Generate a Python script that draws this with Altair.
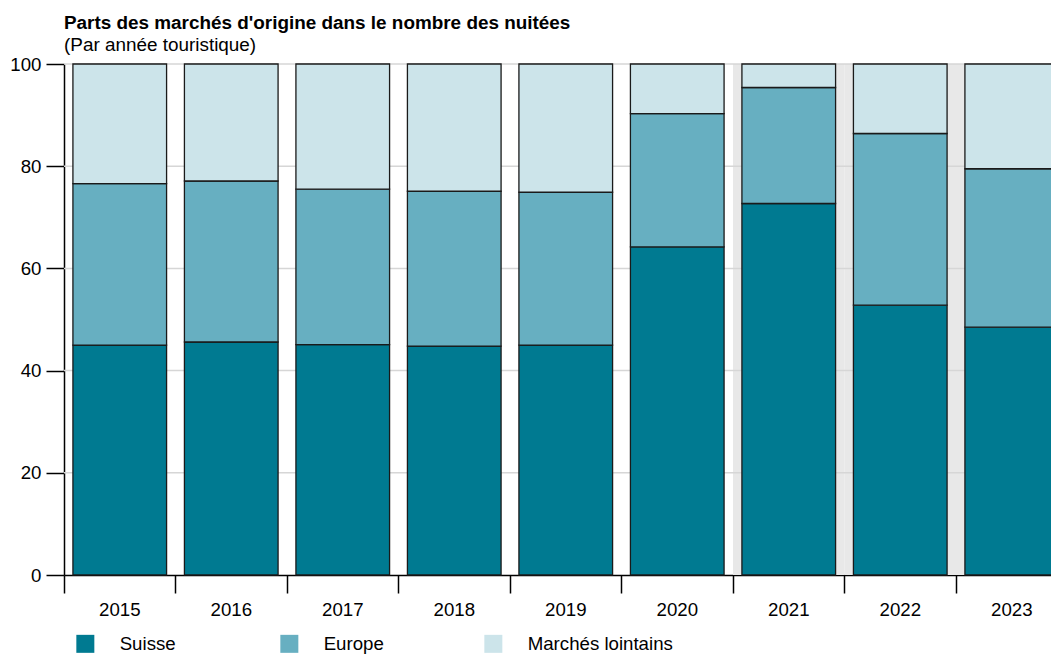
import altair as alt
import pandas as pd

years = ["2015", "2016", "2017", "2018", "2019", "2020", "2021", "2022", "2023"]
series = ["Suisse", "Europe", "Marchés lointains"]
suisse = [45.0, 45.6, 45.1, 44.8, 45.0, 64.2, 72.7, 52.8, 48.5]
europe = [31.6, 31.5, 30.4, 30.3, 29.9, 26.1, 22.7, 33.6, 31.0]
lointains = [23.4, 22.9, 24.5, 24.9, 25.1, 9.7, 4.6, 13.6, 20.5]
colors = ["#007a91", "#67afc1", "#cce4ea"]
shaded_years = ["2021", "2022", "2023"]
y_ticks = [0, 20, 40, 60, 80, 100]

FONT = "Liberation Sans"
FS = 18.67

rows = []
for i, y in enumerate(years):
    for k, (name, vals) in enumerate(zip(series, [suisse, europe, lointains])):
        rows.append({"year": y, "series": name, "value": vals[i], "order": k})
df = pd.DataFrame(rows)
bg_df = pd.DataFrame({"year": shaded_years, "value": [100] * len(shaded_years)})
grid_df = pd.DataFrame({"value": y_ticks[1:]})

x_enc = alt.X(
    "year:N",
    scale=alt.Scale(domain=years, range=[0, 1003.5], paddingInner=0, paddingOuter=0),
    axis=alt.Axis(
        bandPosition=0, tickSize=18, tickColor="black", tickWidth=1.5,
        domainColor="black", domainWidth=1.5, labelFontSize=FS, labelFont=FONT,
        labelColor="black", labelPadding=7, labelAngle=0, title=None, grid=False,
    ),
)
y_axis = alt.Axis(
    values=y_ticks, tickSize=18, tickColor="black", tickWidth=1.5, domainColor="black",
    domainWidth=1.5, labelFontSize=FS, labelFont=FONT, labelColor="black",
    labelPadding=5, title=None, grid=False,
)
y_scale = alt.Scale(domain=[0, 100], nice=False)

bg = alt.Chart(bg_df).mark_bar(color="#e8e8e8", width=alt.RelativeBandSize(1)).encode(
    x=x_enc, y=alt.Y("value:Q", scale=y_scale, axis=y_axis, title=None)
)
grid = alt.Chart(grid_df).mark_rule(color="#d6d6d6", strokeWidth=1.5).encode(
    y=alt.Y("value:Q", scale=y_scale, axis=y_axis, title=None)
)
bars = alt.Chart(df).mark_bar(
    width=alt.RelativeBandSize(0.84), stroke="#1a1a1a", strokeWidth=1.3
).encode(
    x=x_enc,
    y=alt.Y("value:Q", stack="zero", scale=y_scale, axis=y_axis, title=None),
    color=alt.Color(
        "series:N",
        scale=alt.Scale(domain=series, range=colors),
        legend=alt.Legend(
            orient="none", legendX=12, legendY=570, direction="horizontal", columns=3,
            symbolType="square", symbolSize=324, symbolStrokeWidth=0, symbolOpacity=1,
            labelFontSize=FS, labelFont=FONT, labelColor="black", labelOffset=25,
            columnPadding=15, gridAlign="all", title=None,
        ),
    ),
    order=alt.Order("order:Q"),
)

chart = alt.layer(bg, grid, bars).properties(
    width=987,
    height=511,
    autosize=alt.AutoSizeParams(type="none"),
    padding={"left": 56, "top": 56, "right": 0, "bottom": 79},
    title=alt.TitleParams(
        text="Parts des marchés d'origine dans le nombre des nuitées",
        subtitle="(Par année touristique)",
        anchor="start", frame="group", fontSize=18.9, font=FONT, fontWeight="bold",
        color="black", subtitleFontSize=18.9, subtitleFont=FONT, subtitleColor="black",
        subtitlePadding=3, offset=0.5,
    ),
).configure_view(stroke=None)

chart.save("out.html", embed_options={"renderer": "svg", "actions": False})
